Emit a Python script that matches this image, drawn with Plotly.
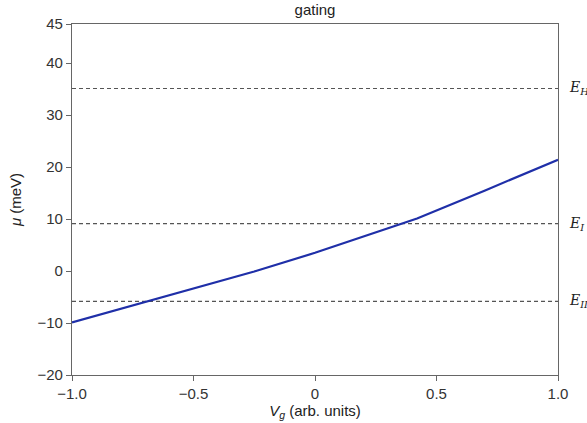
import plotly.graph_objects as go

# Data
vg = [-1.0, -0.75, -0.5, -0.25, 0.0, 0.2, 0.42, 0.7, 1.0]
mu = [-9.9, -6.6, -3.3, -0.1, 3.5, 6.7, 10.1, 15.5, 21.4]

level_names = ["E<sub>H</sub>", "E<sub>I</sub>", "E<sub>II</sub>"]
level_values = [35.1, 9.1, -5.85]

x_tick_vals = [-1.0, -0.5, 0.0, 0.5, 1.0]
x_tick_text = ["−1.0", "−0.5", "0", "0.5", "1.0"]
y_tick_vals = [-20, -10, 0, 10, 20, 30, 40, 47.5]
y_tick_text = ["−20", "−10", "0", "10", "20", "30", "40", "45"]

FONT = "Liberation Sans, Arial"

fig = go.Figure()

for name, val in zip(level_names, level_values):
    fig.add_trace(go.Scatter(
        x=[x_tick_vals[0], x_tick_vals[-1]], y=[val, val], mode="lines",
        line=dict(color="#555555", width=1.2, dash="4px,3px"),
        hoverinfo="skip", showlegend=False))
    fig.add_annotation(
        x=1.0, y=val, xref="paper", yref="y", xanchor="left", yanchor="middle",
        xshift=9, text=f"<i>{name}</i>", showarrow=False,
        font=dict(family="DejaVu Serif", size=14, color="#222222"))

fig.add_trace(go.Scatter(
    x=vg, y=mu, mode="lines", line=dict(color="#1f2fa8", width=2.2),
    showlegend=False))

axis_common = dict(
    showgrid=False, zeroline=False, showline=True, linecolor="#666666",
    linewidth=1.2, mirror=True, ticks="outside", tickcolor="#666666",
    ticklen=5, tickwidth=1.2, tickfont=dict(family=FONT, size=15, color="#333333"),
    automargin=False,
)

fig.update_layout(
    width=587, height=423,
    margin=dict(l=72, r=29, t=24, b=48),
    paper_bgcolor="white", plot_bgcolor="white",
    title=dict(text="gating", x=0.5, xref="paper", y=0.99, yanchor="top",
               font=dict(family=FONT, size=15, color="#222222")),
    xaxis=dict(range=[-1, 1], tickvals=x_tick_vals, ticktext=x_tick_text,
               title=dict(text="<i>V<sub>g</sub></i> (arb. units)", standoff=4,
                          font=dict(family=FONT, size=15, color="#222222")),
               **axis_common),
    yaxis=dict(range=[-20, 47.5], tickvals=y_tick_vals, ticktext=y_tick_text,
               title=dict(text="<i>μ</i> (meV)", standoff=12,
                          font=dict(family=FONT, size=15, color="#222222")),
               **axis_common),
)

fig.write_html("out.html", config={"displayModeBar": False},
               post_script="document.body.style.margin='0';document.body.style.overflow='hidden';")
